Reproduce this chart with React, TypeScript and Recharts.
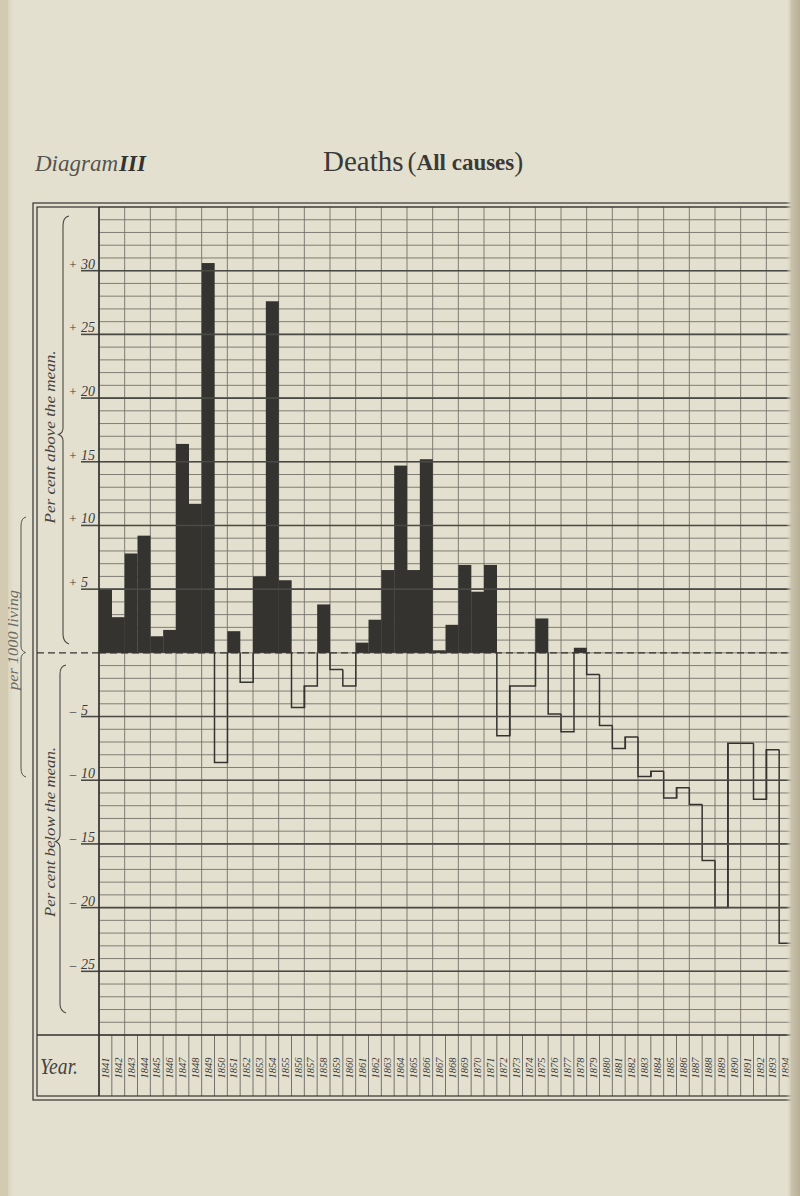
import React from 'react';
import { ComposedChart, Bar, XAxis, YAxis, CartesianGrid, ReferenceLine } from 'recharts';

// ---- data ----
const years: string[] = [
  '1841', '1842', '1843', '1844', '1845', '1846', '1847', '1848', '1849', '1850',
  '1851', '1852', '1853', '1854', '1855', '1856', '1857', '1858', '1859', '1860',
  '1861', '1862', '1863', '1864', '1865', '1866', '1867', '1868', '1869', '1870',
  '1871', '1872', '1873', '1874', '1875', '1876', '1877', '1878', '1879', '1880',
  '1881', '1882', '1883', '1884', '1885', '1886', '1887', '1888', '1889', '1890',
  '1891', '1892', '1893', '1894',
];

// per cent above (+) / below (-) the mean
const deviation: number[] = [
  5.0, 2.8, 7.8, 9.2, 1.3, 1.8, 16.4, 11.7, 30.6, -8.6,
  1.7, -2.3, 6.0, 27.6, 5.7, -4.3, -2.6, 3.8, -1.3, -2.6,
  0.8, 2.6, 6.5, 14.7, 6.5, 15.2, 0.2, 2.2, 6.9, 4.8,
  6.9, -6.5, -2.6, -2.6, 2.7, -4.8, -6.2, 0.4, -1.7, -5.7,
  -7.5, -6.6, -9.7, -9.3, -11.4, -10.6, -11.9, -16.3, -20.0, -7.1,
  -7.1, -11.5, -7.6, -22.8,
];

const majorTicks: number[] = [30, 25, 20, 15, 10, 5, -5, -10, -15, -20, -25];
const Y_MIN = -30;
const Y_MAX = 35;
const gridTicks: number[] = Array.from({ length: Y_MAX - Y_MIN + 1 }, (_, i) => Y_MAX - i);
const colEdges: number[] = Array.from({ length: years.length + 1 }, (_, i) => i);

const data = years.map((year, i) => ({ year, idx: i + 0.5, value: deviation[i] }));

// ---- layout / style ----
const W = 800;
const H = 1196;
const PLOT_L = 99;
const PLOT_R = 792;
const PLOT_T = 207;
const PLOT_B = 1035;
const ROW_B = 1096;
const COL = (PLOT_R - PLOT_L) / years.length;

const PAPER = '#e4e0cf';
const INK = '#343330';
const GRID = '#74726a';
const MAJOR = '#4a4944';
const SERIF = '"Liberation Serif", "DejaVu Serif", serif';

// positive years: solid black column; negative years: outline of the step curve below the mean
const DeviationBar = (props: any) => {
  const { x, y, width, height, payload, index } = props;
  const top = Math.min(y, y + height);
  const bot = Math.max(y, y + height);
  const v = payload.value;
  if (v >= 0) {
    return <rect x={x} y={top} width={width} height={Math.max(bot - top, 1.2)} fill={INK} />;
  }
  const ppu = (bot - top) / Math.abs(v); // pixels per unit from the bar's own geometry
  const prev = index > 0 ? deviation[index - 1] : 0;
  const next = index < deviation.length - 1 ? deviation[index + 1] : 0;
  const yPrev = top + Math.abs(Math.min(prev, 0)) * ppu;
  const yNext = top + Math.abs(Math.min(next, 0)) * ppu;
  const xr = x + width;
  const d =
    `M${x},${yPrev}L${x},${bot}L${xr},${bot}` +
    (yNext < bot ? `L${xr},${yNext}` : '');
  return <path d={d} fill="none" stroke={INK} strokeWidth={1.5} />;
};

const YTick = (props: any) => {
  const { x, y, payload } = props;
  const v = payload.value;
  if (v === 0) {
    return (
      <line x1={x - 62} x2={x} y1={y} y2={y} stroke={INK} strokeWidth={1.3} strokeDasharray="7 4" />
    );
  }
  if (!majorTicks.includes(v)) return <g />;
  return (
    <g>
      <line x1={x - 18} x2={x} y1={y} y2={y} stroke={MAJOR} strokeWidth={1.6} />
      <text x={x - 26} y={y - 2} textAnchor="middle" fontFamily={SERIF} fontSize={13} fill="#3c3b38">
        {v > 0 ? '+' : '–'}
      </text>
      <text x={x - 18} y={y - 2} fontFamily={SERIF} fontStyle="italic" fontSize={14} fill="#3c3b38">
        {Math.abs(v)}
      </text>
    </g>
  );
};

const XTick = (props: any) => {
  const { x, y, payload } = props;
  return (
    <g>
      <line x1={x - COL / 2} x2={x - COL / 2} y1={y} y2={y + (ROW_B - PLOT_B)} stroke={GRID} strokeWidth={1} />
      <text
        transform={`translate(${x + 3.6},${y + 33}) rotate(-90)`}
        textAnchor="middle"
        fontFamily={SERIF}
        fontStyle="italic"
        fontSize={10.5}
        fill="#3c3b38"
      >
        {payload.value}
      </text>
    </g>
  );
};

const Overlay = () => (
  <svg
    width={W}
    height={H}
    style={{ position: 'absolute', left: 0, top: 0, pointerEvents: 'none' }}
  >
    <defs>
      <linearGradient id="bind" x1="0" x2="1" y1="0" y2="0">
        <stop offset="0" stopColor="#cbc2a9" />
        <stop offset="0.5" stopColor="#dad3bd" />
        <stop offset="1" stopColor={PAPER} stopOpacity="0" />
      </linearGradient>
      <linearGradient id="edge" x1="0" x2="1" y1="0" y2="0">
        <stop offset="0" stopColor={PAPER} stopOpacity="0" />
        <stop offset="0.4" stopColor="#c9c1ab" />
        <stop offset="1" stopColor="#b8af98" />
      </linearGradient>
    </defs>

    <rect x={0} y={0} width={16} height={H} fill="url(#bind)" />

    {/* title */}
    <text x={35} y={171} fontFamily={SERIF} fontStyle="italic" fontSize={23} fill="#55544f">
      Diagram
      <tspan dx={1} fontWeight="bold" fill="#33322f">III</tspan>
    </text>
    <text x={323} y={171} fontFamily={SERIF} fill="#3a3936">
      <tspan fontSize={29}>Deaths</tspan>
      <tspan dx={4} fontSize={27}>(</tspan>
      <tspan fontWeight="bold" fontSize={23} dy={-1}>All causes</tspan>
      <tspan fontSize={27} dy={1}>)</tspan>
    </text>

    {/* outer double frame */}
    <rect x={33} y={203} width={763} height={897} fill="none" stroke={INK} strokeWidth={1.2} />
    <rect x={37} y={PLOT_T} width={PLOT_R - 37} height={ROW_B - PLOT_T} fill="none" stroke={INK} strokeWidth={1.2} />
    <line x1={PLOT_L} x2={PLOT_L} y1={PLOT_T} y2={ROW_B} stroke={INK} strokeWidth={1.6} />
    <line x1={37} x2={PLOT_R} y1={PLOT_B} y2={PLOT_B} stroke={INK} strokeWidth={1.6} />

    {/* left column labels */}
    <path d="M69,216 Q63,217 63,226 L63,428 Q63,433 58.5,434.5 Q63,436 63,441 L63,634 Q63,642 69,644" fill="none" stroke="#4a4945" strokeWidth={1.1} />
    <text transform="translate(55,437) rotate(-90)" textAnchor="middle" fontFamily={SERIF} fontStyle="italic" fontSize={15} fill="#44433f" textLength={173} lengthAdjust="spacingAndGlyphs">
      Per cent above the mean.
    </text>
    <path d="M66,665 Q60,666 60,674 L60,835 Q60,840 55.5,841.5 Q60,843 60,848 L60,1004 Q60,1011 66,1013" fill="none" stroke="#4a4945" strokeWidth={1.1} />
    <text transform="translate(55,832) rotate(-90)" textAnchor="middle" fontFamily={SERIF} fontStyle="italic" fontSize={15} fill="#44433f" textLength={170} lengthAdjust="spacingAndGlyphs">
      Per cent below the mean.
    </text>
    <text x={40} y={1074} fontFamily={SERIF} fontStyle="italic" fontSize={23} fill="#44433f" textLength={38} lengthAdjust="spacingAndGlyphs">
      Year.
    </text>

    {/* far left note in the gutter */}
    <path d="M26,517 Q21,518 21,526 L21,646 Q21,651 25.5,652.5 Q21,654 21,659 L21,768 Q21,776 26,777" fill="none" stroke="#55544f" strokeWidth={1} />
    <text transform="translate(18,640) rotate(-90)" textAnchor="middle" fontFamily={SERIF} fontStyle="italic" fontSize={15} fill="#6e6b62" textLength={100} lengthAdjust="spacingAndGlyphs">
      per 1000 living
    </text>
    <rect x={0} y={0} width={8} height={H} fill="#d3cab2" />
    <rect x={786} y={0} width={14} height={H} fill="url(#edge)" />
  </svg>
);

export default function App() {
  return (
    <div style={{ position: 'absolute', left: 0, top: 0, width: W, height: H, background: PAPER, overflow: 'hidden' }}>
      <ComposedChart
        width={W}
        height={H}
        data={data}
        margin={{ top: PLOT_T, right: W - PLOT_R, bottom: H - ROW_B, left: 39 }}
        barCategoryGap={0}
        barGap={0}
      >
        <XAxis
          dataKey="year"
          type="category"
          interval={0}
          axisLine={false}
          tickLine={false}
          tickSize={0}
          tickMargin={0}
          height={ROW_B - PLOT_B}
          tick={<XTick />}
        />
        <XAxis xAxisId="g" dataKey="idx" type="number" domain={[0, years.length]} ticks={colEdges} allowDataOverflow hide />
        <YAxis
          type="number"
          domain={[Y_MIN, Y_MAX]}
          ticks={gridTicks}
          interval={0}
          allowDataOverflow
          axisLine={false}
          tickLine={false}
          tickSize={0}
          tickMargin={0}
          width={PLOT_L - 39}
          tick={<YTick />}
        />
        <CartesianGrid xAxisId="g" stroke={GRID} strokeWidth={0.9} />
        {majorTicks.map((t) => (
          <ReferenceLine key={t} y={t} stroke={MAJOR} strokeWidth={1.6} />
        ))}
        <ReferenceLine y={0} stroke={INK} strokeWidth={1.3} strokeDasharray="7 4" />
        <Bar dataKey="value" isAnimationActive={false} shape={<DeviationBar />} />
      </ComposedChart>
      <Overlay />
    </div>
  );
}
